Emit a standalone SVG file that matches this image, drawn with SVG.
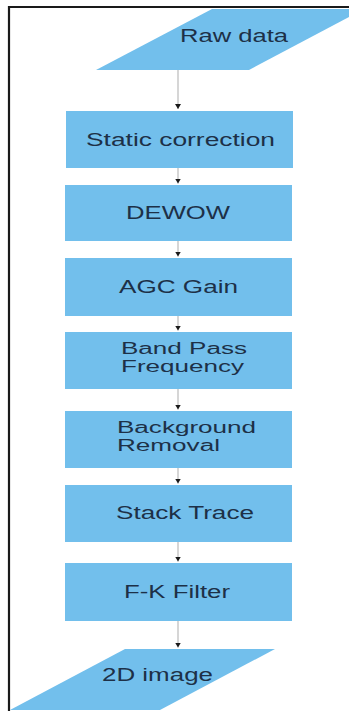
<svg xmlns="http://www.w3.org/2000/svg" width="349" height="711" viewBox="0 0 349 711">
  <style>
    .shape { fill: #72bfec; stroke: none; }
    .label { font-family: "Liberation Sans", Arial, sans-serif; font-size: 17.5px; fill: #1d3047; }
    .small { font-size: 16px; }
    .link { stroke: #c9c9c9; stroke-width: 1.5; fill: none; marker-end: url(#head); }
    .frame { stroke: #1a1a1a; stroke-width: 2.2; fill: none; }
  </style>
  <defs>
    <marker id="head" viewBox="0 -3 5 6" refX="5" refY="0" markerWidth="5" markerHeight="6" markerUnits="userSpaceOnUse" orient="auto">
      <path d="M0,-3 L5,0 L0,3 z" fill="#1a1a1a"/>
    </marker>
  </defs>

  <rect width="349" height="711" fill="#ffffff"/>

  <!-- outer frame: top and left edges only -->
  <path class="frame" d="M9,711 L9,7 L349,7"/>

  <g id="connectors">
    <line class="link" x1="178" y1="70" x2="178" y2="109"/>
    <line class="link" x1="178" y1="168" x2="178" y2="183.5"/>
    <line class="link" x1="178" y1="241" x2="178" y2="256.5"/>
    <line class="link" x1="178" y1="316" x2="178" y2="330.5"/>
    <line class="link" x1="178" y1="389" x2="178" y2="409.5"/>
    <line class="link" x1="178" y1="468" x2="178" y2="483.5"/>
    <line class="link" x1="178" y1="542" x2="178" y2="561.5"/>
    <line class="link" x1="178" y1="621" x2="178" y2="647.5"/>
  </g>

  <g id="raw-data">
    <polygon class="shape" points="212,9 364,9 249,70 96,70"/>
    <text class="label" x="180" y="42" textLength="108" lengthAdjust="spacingAndGlyphs">Raw data</text>
  </g>

  <g id="static-correction">
    <rect class="shape" x="66" y="111" width="227" height="57"/>
    <text class="label" x="86" y="146" textLength="189" lengthAdjust="spacingAndGlyphs">Static correction</text>
  </g>

  <g id="dewow">
    <rect class="shape" x="65" y="185" width="227" height="56"/>
    <text class="label" x="126" y="219" textLength="104" lengthAdjust="spacingAndGlyphs">DEWOW</text>
  </g>

  <g id="agc-gain">
    <rect class="shape" x="65" y="258" width="227" height="58"/>
    <text class="label" x="119" y="293" textLength="119" lengthAdjust="spacingAndGlyphs">AGC Gain</text>
  </g>

  <g id="band-pass">
    <rect class="shape" x="65" y="332" width="227" height="57"/>
    <text class="label small" x="121" y="354" textLength="126" lengthAdjust="spacingAndGlyphs">Band Pass</text>
    <text class="label small" x="121" y="372" textLength="123" lengthAdjust="spacingAndGlyphs">Frequency</text>
  </g>

  <g id="background-removal">
    <rect class="shape" x="65" y="411" width="227" height="57"/>
    <text class="label small" x="117" y="433" textLength="139" lengthAdjust="spacingAndGlyphs">Background</text>
    <text class="label small" x="117" y="451" textLength="103" lengthAdjust="spacingAndGlyphs">Removal</text>
  </g>

  <g id="stack-trace">
    <rect class="shape" x="65" y="485" width="227" height="57"/>
    <text class="label" x="116" y="519" textLength="138" lengthAdjust="spacingAndGlyphs">Stack Trace</text>
  </g>

  <g id="fk-filter">
    <rect class="shape" x="65" y="563" width="227" height="58"/>
    <text class="label" x="124" y="598" textLength="106" lengthAdjust="spacingAndGlyphs">F-K Filter</text>
  </g>

  <g id="image-2d">
    <polygon class="shape" points="125,649 275,649 160,710 10,710"/>
    <text class="label" x="102" y="681" textLength="111" lengthAdjust="spacingAndGlyphs">2D image</text>
  </g>
</svg>
